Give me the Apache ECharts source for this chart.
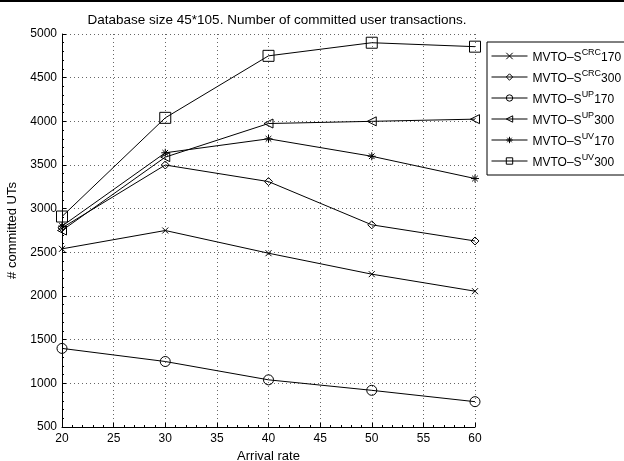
<!DOCTYPE html>
<html>
<head>
<meta charset="utf-8">
<script src="https://cdn.jsdelivr.net/npm/echarts@6/dist/echarts.min.js"></script>
<style>
  html, body { margin: 0; padding: 0; background: #fff; }
  #chart { width: 624px; height: 461px; }
</style>
</head>
<body>
<div id="chart"></div>
<script>
// arrival rates on the x axis
const arrivalRates = [20, 30, 40, 50, 60];

// committed user transactions, one array per protocol variant
const crc170 = [2540, 2750, 2490, 2250, 2055];
const crc300 = [2780, 3500, 3310, 2815, 2630];
const up170 = [1400, 1250, 1040, 920, 790];
const up300 = [2750, 3590, 3975, 4000, 4025];
const uv170 = [2800, 3640, 3800, 3600, 3345];
const uv300 = [2910, 4040, 4750, 4900, 4855];

const legendLabels = [
  ['CRC', '170'], ['CRC', '300'], ['UP', '170'],
  ['UP', '300'], ['UV', '170'], ['UV', '300']
];

// marker shapes, matlab style
const SYM_X = 'path://M0,0L10,10M10,0L0,10';
const SYM_STAR = 'path://M5,0L5,10M0,5L10,5M1.5,1.5L8.5,8.5M8.5,1.5L1.5,8.5';
const SYM_LTRI = 'path://M0,5L10,0L10,10Z';

const chart = echarts.init(document.getElementById('chart'));

function mkSeries(idx, data, symbol, size) {
  return {
    name: 's' + idx,
    type: 'line',
    data: arrivalRates.map((x, i) => [x, data[i]]),
    symbol: symbol,
    symbolSize: size,
    showAllSymbol: true,
    color: '#000',
    lineStyle: { color: '#000', width: 1 },
    itemStyle: { color: 'rgba(0,0,0,0)', borderColor: '#000', borderWidth: 1 },
    emphasis: { disabled: true },
    animation: false,
    z: 3
  };
}

const font = 'Liberation Sans, Arial, Helvetica, sans-serif';

const option = {
  backgroundColor: '#fff',
  textStyle: { fontFamily: font },
  title: {
    text: 'Database size 45*105. Number of committed user transactions.',
    left: 272,
    textAlign: 'center',
    top: 8,
    textStyle: { fontSize: 13.5, fontWeight: 'normal', color: '#000', fontFamily: font }
  },
  graphic: [{
    type: 'rect',
    shape: { x: 0, y: 0, width: 624, height: 2 },
    style: { fill: '#000' }
  }],
  grid: { left: 62, right: 149, top: 34, bottom: 34, outerBoundsMode: 'none' },
  legend: {
    orient: 'vertical',
    left: 487,
    top: 42,
    padding: [6, 8, 6, 4],
    itemGap: 5,
    itemWidth: 36,
    itemHeight: 8,
    borderColor: '#000',
    borderWidth: 1,
    backgroundColor: '#fff',
    lineStyle: { width: 1 },
    itemStyle: { borderWidth: 1 },
    data: ['s0', 's1', 's2', 's3', 's4', 's5'],
    formatter: function (name) {
      const l = legendLabels[+name.slice(1)];
      return '{n|MVTO–S}{s|' + l[0] + '}{n|' + l[1] + '}';
    },
    textStyle: {
      color: '#000',
      fontFamily: font,
      rich: {
        n: { fontSize: 12, fontFamily: font, color: '#000', verticalAlign: 'bottom', lineHeight: 16 },
        s: { fontSize: 9, fontFamily: font, color: '#000', verticalAlign: 'top', lineHeight: 16 }
      }
    }
  },
  xAxis: {
    type: 'value',
    min: 20,
    max: 60,
    interval: 5,
    name: 'Arrival rate',
    nameLocation: 'middle',
    nameGap: 22,
    nameTextStyle: { fontSize: 13, color: '#000', fontFamily: font },
    axisLine: { lineStyle: { color: '#000', width: 1 } },
    axisTick: { inside: true, length: 4, lineStyle: { color: '#000' } },
    minorTick: { show: true, splitNumber: 5, length: 2, lineStyle: { color: '#000' } },
    axisLabel: { fontSize: 12, color: '#000', margin: 6, fontFamily: font },
    splitLine: { show: true, lineStyle: { color: '#666', type: [1, 3], width: 1 } }
  },
  yAxis: {
    type: 'value',
    min: 500,
    max: 5000,
    interval: 500,
    name: '# committed UTs',
    nameLocation: 'middle',
    nameGap: 42,
    nameTextStyle: { fontSize: 13, color: '#000', fontFamily: font },
    axisLine: { show: true, lineStyle: { color: '#000', width: 1 } },
    axisTick: { show: true, inside: true, length: 4, lineStyle: { color: '#000' } },
    minorTick: { show: true, splitNumber: 5, length: 2, lineStyle: { color: '#000' } },
    axisLabel: { fontSize: 12, color: '#000', margin: 5, fontFamily: font, formatter: v => String(v) },
    splitLine: { show: true, lineStyle: { color: '#666', type: [1, 3], width: 1 } }
  },
  series: [
    mkSeries(0, crc170, SYM_X, 6),
    mkSeries(1, crc300, 'diamond', 8),
    mkSeries(2, up170, 'circle', 10),
    mkSeries(3, up300, SYM_LTRI, 9),
    mkSeries(4, uv170, SYM_STAR, 8),
    mkSeries(5, uv300, 'rect', 11)
  ]
};

chart.setOption(option);
</script>
</body>
</html>
